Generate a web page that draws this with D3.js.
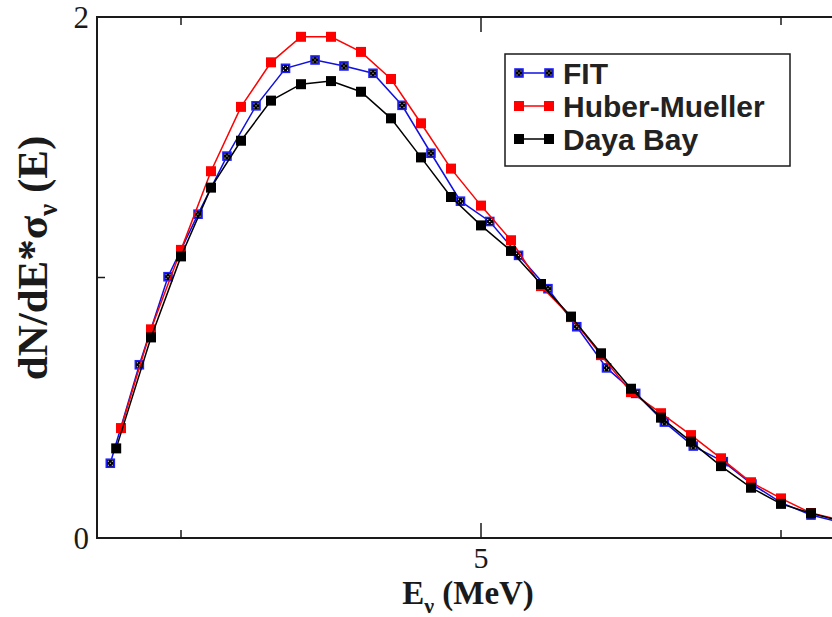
<!DOCTYPE html>
<html><head><meta charset="utf-8">
<script src="https://cdn.jsdelivr.net/npm/d3@7"></script>
<style>body{margin:0;background:#fff}svg{display:block}</style>
</head><body>
<svg id="c" width="832" height="617"></svg>
<script>
// ---- data ----
const fitE = [1.911,2.153,2.392,2.642,2.883,3.125,3.371,3.617,3.858,4.100,4.342,4.583,4.829,5.073,5.313,5.558,5.798,6.046,6.289,6.528,6.769,7.019,7.258,7.500,7.750,7.990];
const fitV = [0.287,0.665,1.003,1.243,1.466,1.659,1.803,1.835,1.812,1.784,1.661,1.477,1.293,1.215,1.085,0.957,0.811,0.653,0.555,0.445,0.353,0.293,0.207,0.136,0.088,0.061];
const hmE = [2.00,2.25,2.50,2.75,3.00,3.25,3.50,3.75,4.00,4.25,4.50,4.75,5.00,5.25,5.50,5.75,6.00,6.25,6.50,6.75,7.00,7.25,7.50,7.75,8.00];
const hmV = [0.422,0.801,1.106,1.408,1.655,1.826,1.924,1.924,1.866,1.762,1.592,1.418,1.276,1.143,0.967,0.848,0.702,0.560,0.479,0.395,0.306,0.214,0.152,0.096,0.069];
const dbE = [1.96,2.25,2.50,2.75,3.00,3.25,3.50,3.75,4.00,4.25,4.50,4.75,5.00,5.25,5.50,5.75,6.00,6.25,6.50,6.75,7.00,7.25,7.50,7.75,8.00];
const dbV = [0.344,0.770,1.081,1.345,1.525,1.679,1.742,1.754,1.713,1.611,1.461,1.309,1.200,1.102,0.975,0.850,0.709,0.573,0.462,0.370,0.276,0.193,0.131,0.095,0.065];
const seriesNames = ["FIT","Huber-Mueller","Daya Bay"];
const xMajor = [5], xMinor = [2.5, 7.5];
const yMajor = [0, 2], yMinor = [1];

const svg = d3.select("#c");
const L = 97, R = 841, T = 17, B = 538;
const x = d3.scaleLinear().domain([1.8, 8.0]).range([L, R]);
const y = d3.scaleLinear().domain([0, 2]).range([B, T]);
const ink = "#1a1a1a";

svg.append("defs").append("clipPath").attr("id","clip")
  .append("rect").attr("x",L).attr("y",T-8).attr("width",R-L+10).attr("height",B-T+8);

const series = [
  {name: seriesNames[0], E: fitE, V: fitV, color: "#1010e0", type: "fit"},
  {name: seriesNames[1], E: hmE, V: hmV, color: "#ff0000", type: "sq"},
  {name: seriesNames[2], E: dbE, V: dbV, color: "#000000", type: "sq"}
];

const line = d3.line().x(d => x(d[0])).y(d => y(d[1]));
const plot = svg.append("g").attr("clip-path","url(#clip)");

function drawMarker(g, cx, cy, s) {
  if (s.type === "sq") {
    g.append("rect").attr("x", cx-5).attr("y", cy-5).attr("width",10).attr("height",10)
      .attr("fill", s.color);
  } else {
    g.append("rect").attr("x", cx-4).attr("y", cy-4).attr("width",8).attr("height",8)
      .attr("fill", "#000").attr("stroke", "#2020ff").attr("stroke-width",1.6);
    [[-2,-2],[2,-2],[0,0],[-2,2],[2,2]].forEach(o => {
      g.append("rect").attr("x", cx+o[0]-0.5).attr("y", cy+o[1]-0.5)
        .attr("width",1).attr("height",1).attr("fill","#fff");
    });
  }
}

series.forEach(s => {
  const pts = s.E.map((e,i) => [e, s.V[i]]);
  plot.append("path").attr("d", line(pts)).attr("fill","none")
    .attr("stroke", s.color).attr("stroke-width",1.5);
  const mg = plot.append("g");
  pts.forEach(p => drawMarker(mg, x(p[0]), y(p[1]), s));
});

// axes frame
const ax = svg.append("g").attr("stroke", ink).attr("stroke-width", 2).attr("fill","none");
ax.append("line").attr("x1",L).attr("x2",L).attr("y1",T-1).attr("y2",B+1);
ax.append("line").attr("x1",L-1).attr("x2",832).attr("y1",B).attr("y2",B);
ax.append("line").attr("x1",L-1).attr("x2",832).attr("y1",T).attr("y2",T);

const tk = svg.append("g").attr("stroke", ink).attr("stroke-width", 1.5);
xMajor.forEach(v => {
  tk.append("line").attr("x1",x(v)).attr("x2",x(v)).attr("y1",B).attr("y2",B-15);
  tk.append("line").attr("x1",x(v)).attr("x2",x(v)).attr("y1",T).attr("y2",T+15);
});
xMinor.forEach(v => {
  tk.append("line").attr("x1",x(v)).attr("x2",x(v)).attr("y1",B).attr("y2",B-8);
  tk.append("line").attr("x1",x(v)).attr("x2",x(v)).attr("y1",T).attr("y2",T+8);
});
yMinor.forEach(v => {
  tk.append("line").attr("x1",L).attr("x2",L+8).attr("y1",y(v)).attr("y2",y(v));
});

// tick labels
const serif = "'Liberation Serif','DejaVu Serif',serif";
xMajor.forEach(v => {
  svg.append("text").attr("x", x(v)).attr("y", 568).attr("text-anchor","middle")
    .attr("font-family", serif).attr("font-size", 30).attr("fill", ink).text(String(v));
});
yMajor.forEach(v => {
  svg.append("text").attr("x", 89).attr("y", y(v)+11).attr("text-anchor","end")
    .attr("font-family", serif).attr("font-size", 31).attr("fill", ink).text(String(v));
});

// axis titles
const xt = svg.append("text").attr("x", 468).attr("y", 604).attr("text-anchor","middle")
  .attr("font-family", serif).attr("font-weight","bold").attr("font-size", 33).attr("fill", ink);
xt.append("tspan").text("E");
xt.append("tspan").attr("font-size", 22).attr("dy", 9).text("ν");
xt.append("tspan").attr("dy", -9).text(" (MeV)");

const yt = svg.append("text").attr("transform","translate(47,258) rotate(-90)").attr("text-anchor","middle")
  .attr("font-family", serif).attr("font-weight","bold").attr("font-size", 43).attr("fill", ink);
yt.append("tspan").text("dN/dE*σ");
yt.append("tspan").attr("font-size", 27).attr("dy", 10).text("ν");
yt.append("tspan").attr("dy", -10).text(" (E)");

// legend
const lg = svg.append("g");
lg.append("rect").attr("x",505).attr("y",54).attr("width",285).attr("height",112)
  .attr("fill","#fff").attr("stroke", ink).attr("stroke-width",1.5);
series.forEach((s,i) => {
  const cy = 73 + i*33;
  lg.append("line").attr("x1",519).attr("x2",549).attr("y1",cy).attr("y2",cy)
    .attr("stroke", s.color).attr("stroke-width",1.5);
  drawMarker(lg, 519, cy, s);
  drawMarker(lg, 549, cy, s);
  lg.append("text").attr("x",563).attr("y",cy+11).attr("font-family","'Liberation Sans',Arial,sans-serif")
    .attr("font-weight","bold").attr("font-size",30).attr("fill","#222").text(s.name);
});
</script>
</body></html>
